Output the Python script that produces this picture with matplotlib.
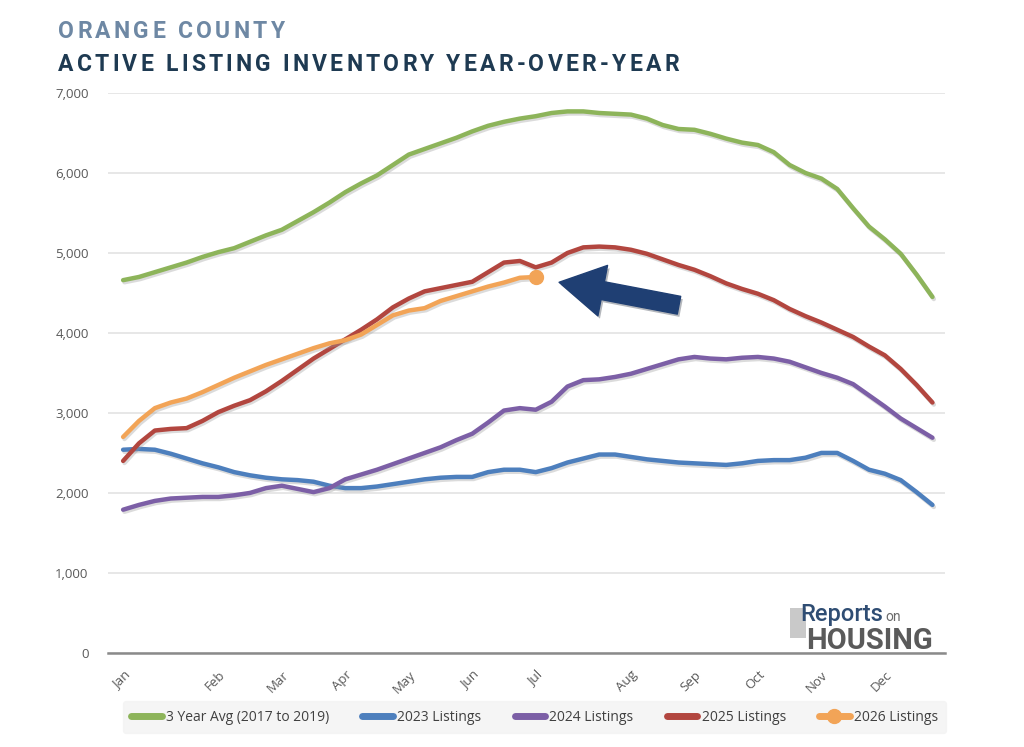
import numpy as np
import matplotlib
matplotlib.use("Agg")
import matplotlib.pyplot as plt
import matplotlib.patheffects as pe
from matplotlib.lines import Line2D
from matplotlib.patches import Rectangle

# weekly inventory, 52 weeks (index 0 = first week of Jan)
avg_17_19 = [4660, 4700, 4760, 4820, 4880, 4950, 5010, 5060, 5140, 5220,
             5290, 5400, 5510, 5630, 5760, 5870, 5970, 6100, 6230, 6300,
             6370, 6440, 6520, 6590, 6640, 6680, 6710, 6750, 6770, 6770,
             6750, 6740, 6730, 6680, 6600, 6550, 6540, 6490, 6430, 6380,
             6350, 6260, 6100, 6000, 5930, 5800, 5560, 5330, 5170, 4990,
             4730, 4450]
y2023 = [2540, 2550, 2540, 2490, 2430, 2370, 2320, 2260, 2220, 2190,
         2170, 2160, 2140, 2090, 2060, 2060, 2080, 2110, 2140, 2170,
         2190, 2200, 2200, 2260, 2290, 2290, 2260, 2310, 2380, 2430,
         2480, 2480, 2450, 2420, 2400, 2380, 2370, 2360, 2350, 2370,
         2400, 2410, 2410, 2440, 2500, 2500, 2400, 2290, 2240, 2160,
         2010, 1850]
y2024 = [1790, 1850, 1900, 1930, 1940, 1950, 1950, 1970, 2000, 2060,
         2090, 2050, 2010, 2060, 2170, 2230, 2290, 2360, 2430, 2500,
         2570, 2660, 2740, 2880, 3030, 3060, 3040, 3140, 3330, 3410,
         3420, 3450, 3490, 3550, 3610, 3670, 3700, 3680, 3670, 3690,
         3700, 3680, 3640, 3570, 3500, 3440, 3360, 3220, 3080, 2930,
         2810, 2690]
y2025 = [2400, 2620, 2780, 2800, 2810, 2900, 3010, 3090, 3160, 3270,
         3400, 3540, 3680, 3800, 3920, 4040, 4170, 4320, 4430, 4520,
         4560, 4600, 4640, 4760, 4880, 4900, 4820, 4880, 5000, 5070,
         5080, 5070, 5040, 4990, 4920, 4850, 4790, 4710, 4620, 4550,
         4490, 4410, 4300, 4210, 4130, 4040, 3950, 3830, 3720, 3550,
         3350, 3130]
y2026 = [2700, 2900, 3060, 3130, 3180, 3260, 3350, 3440, 3520, 3600,
         3670, 3740, 3810, 3870, 3910, 3980, 4100, 4220, 4280, 4310,
         4400, 4460, 4520, 4580, 4630, 4690, 4700]

month_labels = ["Jan", "Feb", "Mar", "Apr", "May", "Jun", "Jul",
                "Aug", "Sep", "Oct", "Nov", "Dec"]
month_weeks = [0, 6, 10, 14, 18, 22, 26, 32, 36, 40, 44, 48]

series = [
    ("3 Year Avg (2017 to 2019)", avg_17_19, "#8db45a"),
    ("2023 Listings", y2023, "#4d7fbd"),
    ("2024 Listings", y2024, "#7c5fa6"),
    ("2025 Listings", y2025, "#b2463f"),
    ("2026 Listings", y2026, "#f2a457"),
]

FONT = "Open Sans"
GRAY = "#595959"

fig = plt.figure(figsize=(10.24, 7.47), dpi=100)
ax = fig.add_axes([0.1055, 0.126, 0.8175, 0.7495])
r = fig.canvas.get_renderer()

shadow = [pe.SimpleLineShadow(offset=(1, -1.5), shadow_color="#9a9a9a", alpha=0.35),
          pe.Normal()]
for name, vals, col in series:
    x = np.arange(len(vals))
    ax.plot(x, vals, color=col, lw=3.2, solid_capstyle="round",
            solid_joinstyle="round", path_effects=shadow, zorder=3)

# end point of current year
ax.plot(len(y2026) - 1, y2026[-1], "o", color="#f2a457", ms=10, zorder=4)

# big arrow pointing at the latest week
ax.annotate("", xy=(27.3, 4640), xytext=(35.2, 4340),
            arrowprops=dict(arrowstyle="simple,head_length=3.2,head_width=3.7,tail_width=1.3",
                            color="#1f3f73", mutation_scale=10,
                            path_effects=[pe.SimplePatchShadow(offset=(1.5, -2), alpha=0.3),
                                          pe.Normal()]),
            zorder=5)

ax.set_ylim(0, 7000)
ax.set_xlim(-0.95, 51.8)
ax.set_yticks(range(0, 7001, 1000))
ax.set_yticklabels([f"{v:,}" for v in range(0, 7001, 1000)],
                   fontsize=9.5, color=GRAY, family=FONT)
ax.set_xticks(month_weeks)
ax.set_xticklabels(month_labels, rotation=45, ha="right", va="top",
                   rotation_mode="anchor", fontsize=9.5, color=GRAY, family=FONT)
ax.tick_params(axis="both", length=0)
ax.tick_params(axis="y", pad=14)
ax.tick_params(axis="x", pad=11)
ax.grid(axis="y", color="#e3e3e3", lw=1.2)
ax.set_axisbelow(True)
for s in ["top", "right", "left"]:
    ax.spines[s].set_visible(False)
ax.spines["bottom"].set_color("#8a8a8a")
ax.spines["bottom"].set_linewidth(1.8)


# text placed char by char (letter spacing), x/y in pixels from bottom-left
def spaced_text(x, y, s, spacing, **kw):
    for ch in s:
        t = fig.text(x, y, ch, transform=None, **kw)
        x += t.get_window_extent(renderer=r).width + spacing
    return x


spaced_text(58, 747 - 38, "ORANGE COUNTY", 3.3, fontsize=16.5,
            fontweight="bold", color="#6e88a4", family="Roboto")
spaced_text(58, 747 - 71, "ACTIVE LISTING INVENTORY YEAR-OVER-YEAR", 3.2,
            fontsize=16.5, fontweight="bold", color="#1e3a52", family="Roboto")

# legend
handles = []
for name, vals, col in series:
    if name == "2026 Listings":
        handles.append(Line2D([], [], color=col, lw=5, marker="o", ms=10,
                              solid_capstyle="round"))
    else:
        handles.append(Line2D([], [], color=col, lw=5, solid_capstyle="round"))
leg = fig.legend(handles, [n for n, _, _ in series], loc="center",
                 bbox_to_anchor=(0.522, 0.04), ncol=5, frameon=True,
                 handlelength=2.2, columnspacing=2.4,
                 handletextpad=0.3, borderpad=0.6,
                 prop={"family": FONT, "size": 10})
leg.get_frame().set_facecolor("#f3f3f3")
leg.get_frame().set_edgecolor("#f3f3f3")
for t in leg.get_texts():
    t.set_color("#404040")

# logo
fig.patches.append(Rectangle((790, 747 - 638), 16, 30, transform=None,
                             facecolor="#c9c9c9", edgecolor="none"))
t = fig.text(800, 747 - 621, "Reports", transform=None, fontsize=17,
             color="#2f4d73", family="Roboto", fontweight="medium")
xe = t.get_window_extent(renderer=r).x1
fig.text(xe + 2, 747 - 621, "on", transform=None, fontsize=10,
         color="#6a6a6a", family="Roboto")
fig.text(806, 747 - 649, "HOUSING", transform=None, fontsize=21,
         color="#5a5a5a", family="Roboto", fontweight="bold")

fig.savefig("out.png", dpi=100)
